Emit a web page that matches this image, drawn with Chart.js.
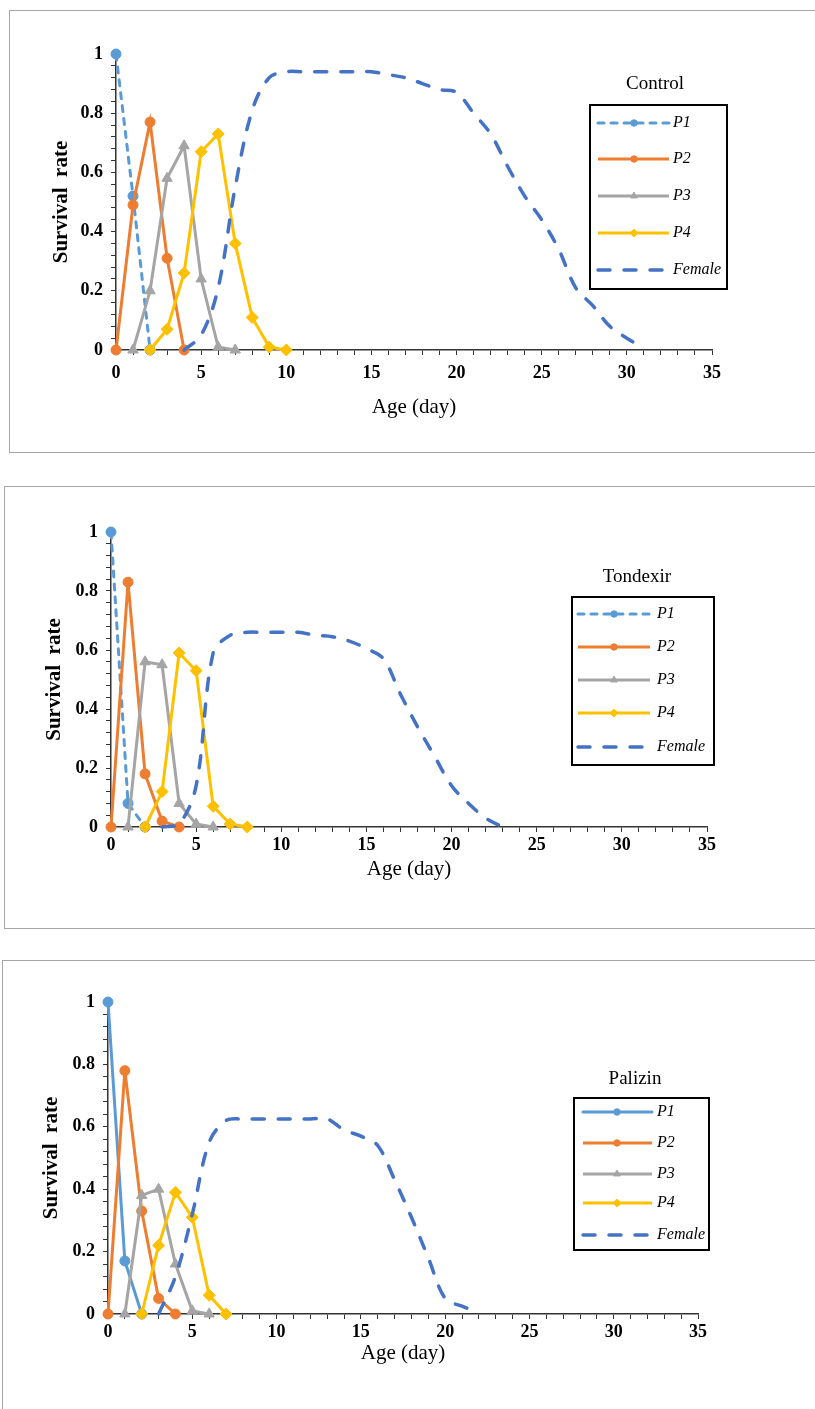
<!DOCTYPE html>
<html>
<head>
<meta charset="utf-8">
<script src="https://cdn.jsdelivr.net/npm/chart.js@4.4.1/dist/chart.umd.min.js"></script>
<style>
  html, body { margin: 0; padding: 0; background: #fff; }
  body { width: 815px; height: 1409px; position: relative; overflow: hidden; }
  .frame { position: absolute; border: 1px solid #a6a6a6; box-sizing: border-box; }
  canvas { position: absolute; left: 0; }
</style>
</head>
<body>
<div class="frame" style="left:9px; top:10px; width:830px; height:443px;"></div>
<div class="frame" style="left:4px; top:486px; width:830px; height:443px;"></div>
<div class="frame" style="left:2px; top:960px; width:830px; height:470px;"></div>
<canvas id="c1" width="815" height="440" style="top:10px"></canvas>
<canvas id="c2" width="815" height="442" style="top:486px"></canvas>
<canvas id="c3" width="815" height="449" style="top:960px"></canvas>
<script>
const xTickLabels = [0, 5, 10, 15, 20, 25, 30, 35];
const yTickLabels = [0, 0.2, 0.4, 0.6, 0.8, 1];
const seriesNames = ["P1", "P2", "P3", "P4", "Female"];
const panelTitles = ["Control", "Tondexir", "Palizin"];

// each series: first day, then one value per day
const ctrlStart = [0, 0, 1, 2, 4];
const ctrlP1 = [1, 0.52, 0];
const ctrlP2 = [0, 0.49, 0.77, 0.31, 0];
const ctrlP3 = [0, 0.20, 0.58, 0.69, 0.24, 0.01, 0];
const ctrlP4 = [0, 0.07, 0.26, 0.67, 0.73, 0.36, 0.11, 0.01, 0];
const ctrlFemale = [0, 0.05, 0.21, 0.55, 0.81, 0.92, 0.94, 0.94, 0.94, 0.94, 0.94, 0.94, 0.93, 0.92,
    0.90, 0.88, 0.87, 0.80, 0.73, 0.62, 0.52, 0.44, 0.34, 0.21, 0.15, 0.08, 0.04, 0.005];

const tonStart = [0, 0, 1, 2, 3];
const tonP1 = [1, 0.08, 0];
const tonP2 = [0, 0.83, 0.18, 0.02, 0];
const tonP3 = [0, 0.56, 0.55, 0.08, 0.01, 0];
const tonP4 = [0, 0.12, 0.59, 0.53, 0.07, 0.01, 0];
const tonFemale = [0, 0.01, 0.14, 0.59, 0.65, 0.66, 0.66, 0.66, 0.66, 0.65, 0.645, 0.63, 0.605, 0.57,
    0.45, 0.34, 0.24, 0.14, 0.08, 0.03, 0];

const palStart = [0, 0, 1, 2, 3];
const palP1 = [1, 0.17, 0];
const palP2 = [0, 0.78, 0.33, 0.05, 0];
const palP3 = [0, 0.38, 0.40, 0.16, 0.01, 0];
const palP4 = [0, 0.22, 0.39, 0.31, 0.06, 0];
const palFemale = [0, 0.12, 0.32, 0.55, 0.62, 0.625, 0.625, 0.625, 0.625, 0.625, 0.625, 0.59, 0.57, 0.54,
    0.43, 0.31, 0.18, 0.05, 0.025, 0.005];

const SERIF = '"Liberation Serif", "Times New Roman", serif';

function daily(start, values) {
    return values.map((v, i) => ({ x: start + i, y: v }));
}

function lineStyles(p1Dashed) {
    return [
        { borderColor: "#5B9BD5", borderWidth: 3, borderDash: p1Dashed ? [6, 7] : [], borderCapStyle: "round",
          pointStyle: "circle", pointRadius: 5, tension: 0, order: 4 },
        { borderColor: "#ED7D31", borderWidth: 3, pointStyle: "circle", pointRadius: 5, tension: 0, order: 3 },
        { borderColor: "#A5A5A5", borderWidth: 3, pointStyle: "triangle", pointRadius: 6, tension: 0, order: 2 },
        { borderColor: "#FFC000", borderWidth: 3, pointStyle: "rectRot", pointRadius: 6, tension: 0, order: 1 },
        { borderColor: "#4472C4", borderWidth: 3.5, borderDash: [12, 14], borderCapStyle: "round",
          pointRadius: 0, tension: 0.35, order: 0 },
    ];
}

const boxLegend = {
    id: "boxLegend",
    afterDraw(chart, args, opts) {
        const ctx = chart.ctx;
        ctx.save();
        ctx.fillStyle = "#000";
        ctx.font = "19px " + SERIF;
        ctx.textAlign = "center";
        ctx.textBaseline = "middle";
        ctx.fillText(opts.title, opts.titleX, opts.titleY);

        const [bx0, by0, bx1, by1] = opts.box;
        ctx.lineWidth = 2;
        ctx.strokeStyle = "#000";
        ctx.strokeRect(bx0, by0, bx1 - bx0, by1 - by0);

        chart.data.datasets.forEach((ds, i) => {
            const y = opts.rows[i];
            ctx.save();
            ctx.strokeStyle = ds.borderColor;
            ctx.lineWidth = ds.borderWidth;
            ctx.lineCap = ds.borderCapStyle || "butt";
            ctx.setLineDash(ds.borderDash || []);
            ctx.beginPath();
            ctx.moveTo(opts.lineX[0], y);
            ctx.lineTo(opts.lineX[1], y);
            ctx.stroke();
            ctx.restore();

            if (ds.pointRadius > 0) {
                ctx.fillStyle = ds.borderColor;
                ctx.strokeStyle = ds.borderColor;
                ctx.lineWidth = 1;
                Chart.helpers.drawPoint(ctx, {
                    pointStyle: ds.pointStyle, radius: ds.pointRadius * 0.65, borderWidth: 1, rotation: 0
                }, opts.markX, y);
            }
            ctx.fillStyle = "#000";
            ctx.font = "italic 16px " + SERIF;
            ctx.textAlign = "left";
            ctx.fillText(ds.label, opts.textX, y);
        });
        ctx.restore();
    }
};

function makeChart(id, starts, values, p1Dashed, lay, legend) {
    const styles = lineStyles(p1Dashed);
    const datasets = values.map((vals, i) => ({
        label: seriesNames[i],
        data: daily(starts[i], vals),
        fill: false,
        pointBackgroundColor: styles[i].borderColor,
        pointBorderColor: styles[i].borderColor,
        pointBorderWidth: 1,
        clip: false,
        ...styles[i],
    }));

    const canvas = document.getElementById(id);
    return new Chart(canvas.getContext("2d"), {
        type: "line",
        data: { datasets },
        plugins: [boxLegend],
        options: {
            responsive: false,
            animation: false,
            layout: { padding: { left: 0, top: lay.top, right: lay.right, bottom: 0 } },
            plugins: {
                legend: { display: false },
                tooltip: { enabled: false },
                boxLegend: legend,
            },
            scales: {
                x: {
                    type: "linear",
                    min: 0,
                    max: 35,
                    afterFit: (s) => { s.height = lay.xHeight; },
                    ticks: {
                        stepSize: 1,
                        autoSkip: false,
                        maxRotation: 0,
                        padding: lay.xTickPad,
                        color: "#000",
                        font: { family: SERIF, size: 18, weight: "bold" },
                        callback: (v) => xTickLabels.includes(v) ? String(v) : "",
                    },
                    grid: { drawOnChartArea: false, drawTicks: true, tickLength: 5, color: "#333", lineWidth: 1 },
                    border: { display: true, color: "#333", width: 1.5 },
                    title: {
                        display: true,
                        text: "Age (day)",
                        color: "#000",
                        font: { family: SERIF, size: 21 },
                        padding: { top: 0, bottom: lay.xTitlePad },
                    },
                },
                y: {
                    min: 0,
                    max: 1,
                    afterFit: (s) => { s.width = lay.left; },
                    ticks: {
                        stepSize: 0.04,
                        maxTicksLimit: 100,
                        autoSkip: false,
                        padding: 8,
                        color: "#000",
                        font: { family: SERIF, size: 18, weight: "bold" },
                        callback: (v) => yTickLabels.some(t => Math.abs(t - v) < 1e-9) ? String(Math.round(v * 10) / 10) : "",
                    },
                    grid: { drawOnChartArea: false, drawTicks: true, tickLength: 5, color: "#333", lineWidth: 1 },
                    border: { display: true, color: "#333", width: 1.5 },
                    title: {
                        display: true,
                        text: "Survival  rate",
                        color: "#000",
                        font: { family: SERIF, size: 21, weight: "bold" },
                        padding: { top: lay.yTitlePad, bottom: 0 },
                    },
                },
            },
        },
    });
}

makeChart("c1", ctrlStart, [ctrlP1, ctrlP2, ctrlP3, ctrlP4, ctrlFemale], true,
    { left: 116, right: 103, top: 44, xHeight: 100, xTickPad: 8, xTitlePad: 30, yTitlePad: 49 },
    { title: panelTitles[0], titleX: 655, titleY: 74, box: [590, 95, 727, 279],
      rows: [113, 149, 186, 223, 260], lineX: [598, 669], markX: 634, textX: 673 });

makeChart("c2", tonStart, [tonP1, tonP2, tonP3, tonP4, tonFemale], true,
    { left: 111, right: 108, top: 46, xHeight: 101, xTickPad: 3, xTitlePad: 46, yTitlePad: 42 },
    { title: panelTitles[1], titleX: 637, titleY: 91, box: [572, 111, 714, 279],
      rows: [128, 161, 194, 227, 261], lineX: [578, 650], markX: 614, textX: 657 });

makeChart("c3", palStart, [palP1, palP2, palP3, palP4, palFemale], false,
    { left: 108, right: 117, top: 42, xHeight: 95, xTickPad: 3, xTitlePad: 43, yTitlePad: 39 },
    { title: panelTitles[2], titleX: 635, titleY: 119, box: [574, 138, 709, 290],
      rows: [152, 183, 214, 243, 275], lineX: [583, 652], markX: 617, textX: 657 });
</script>
</body>
</html>
